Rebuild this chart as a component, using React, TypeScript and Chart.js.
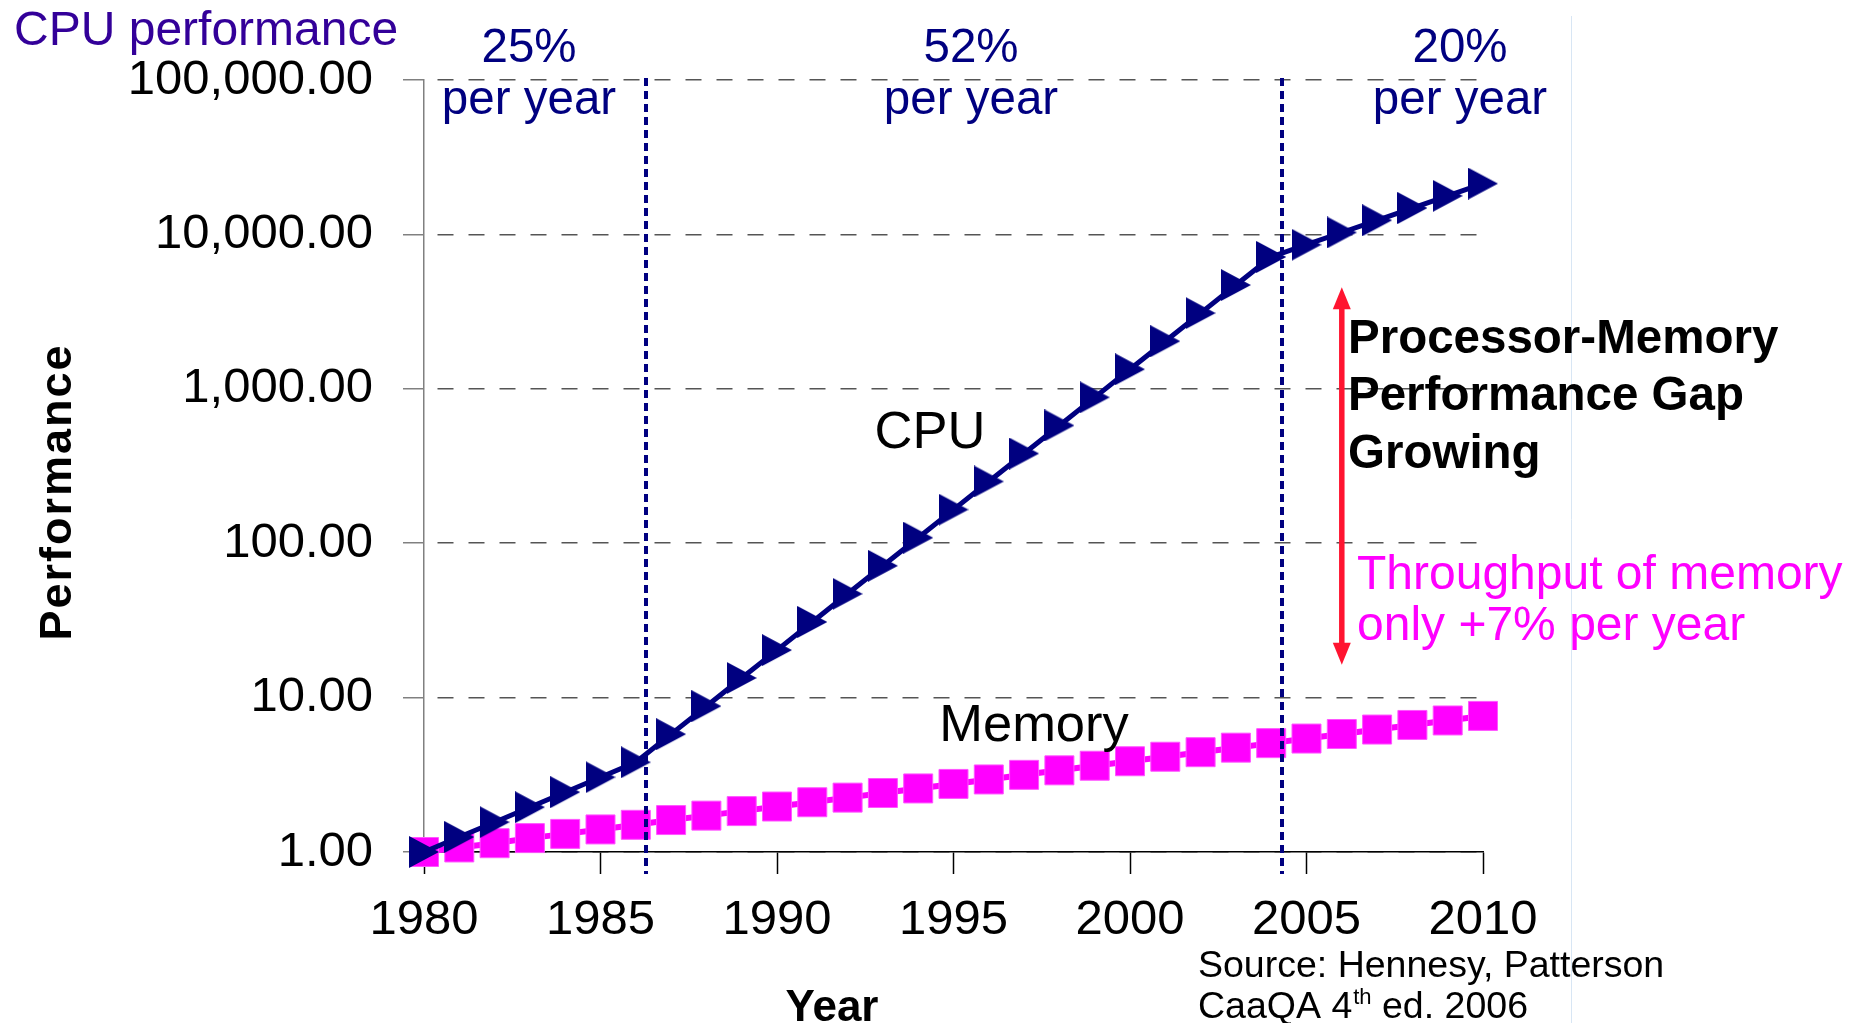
import { useEffect, useRef } from 'react';
import { Chart, registerables } from 'chart.js';

Chart.register(...registerables);

const years = [
  1980, 1981, 1982, 1983, 1984, 1985, 1986, 1987, 1988, 1989, 1990,
  1991, 1992, 1993, 1994, 1995, 1996, 1997, 1998, 1999, 2000,
  2001, 2002, 2003, 2004, 2005, 2006, 2007, 2008, 2009, 2010,
];

const cpuPerformance = [
  1, 1.25, 1.56, 1.95, 2.44, 3.05, 3.81, 5.8, 8.8, 13.4, 20.3,
  30.9, 47, 71.4, 108.5, 165, 251, 381, 579, 880, 1338,
  2034, 3092, 4700, 7144, 8573, 10288, 12345, 14814, 17777, 21332,
];

const memoryPerformance = [
  1, 1.07, 1.14, 1.23, 1.31, 1.4, 1.5, 1.61, 1.72, 1.84, 1.97,
  2.1, 2.25, 2.41, 2.58, 2.76, 2.95, 3.16, 3.38, 3.62, 3.87,
  4.14, 4.43, 4.74, 5.07, 5.43, 5.81, 6.21, 6.65, 7.11, 7.61,
];

const xTickValues = [1980, 1985, 1990, 1995, 2000, 2005, 2010];
const yTickValues = [1, 10, 100, 1000, 10000, 100000];
const yTickLabels = ['1.00', '10.00', '100.00', '1,000.00', '10,000.00', '100,000.00'];

const phaseBoundaryYears = [1986.3, 2004.3];
const phaseRates = ['25%', '52%', '20%'];
const gapArrowYear = 2006;
const gapArrowRange = [16.3, 4550];

const FONT = '"Liberation Sans", Arial, sans-serif';

function makeTriangle(): HTMLCanvasElement {
  const c = document.createElement('canvas');
  c.width = 30;
  c.height = 32;
  const g = c.getContext('2d')!;
  g.fillStyle = '#000080';
  g.beginPath();
  g.moveTo(0, 0);
  g.lineTo(30, 16);
  g.lineTo(0, 32);
  g.closePath();
  g.fill();
  return c;
}

const overlayPlugin = {
  id: 'overlay',
  beforeDraw(chart: any) {
    const { ctx } = chart;
    ctx.save();
    ctx.fillStyle = '#ffffff';
    ctx.fillRect(0, 0, chart.width, chart.height);
    ctx.strokeStyle = '#d8e6f4';
    ctx.lineWidth = 1;
    ctx.beginPath();
    ctx.moveTo(1571.5, 16);
    ctx.lineTo(1571.5, chart.height);
    ctx.stroke();
    ctx.restore();
  },
  afterDatasetsDraw(chart: any) {
    const { ctx, chartArea } = chart;
    const x = chart.scales.x;
    const y = chart.scales.y;
    ctx.save();
    ctx.strokeStyle = '#000080';
    ctx.lineWidth = 4;
    ctx.setLineDash([8, 5]);
    for (const yr of phaseBoundaryYears) {
      const px = Math.round(x.getPixelForValue(yr));
      ctx.beginPath();
      ctx.moveTo(px, chartArea.top - 2);
      ctx.lineTo(px, chartArea.bottom + 22);
      ctx.stroke();
    }
    ctx.restore();

    // red double arrow
    const ax = x.getPixelForValue(gapArrowYear);
    const yTop = y.getPixelForValue(gapArrowRange[1]);
    const yBot = y.getPixelForValue(gapArrowRange[0]);
    ctx.save();
    ctx.strokeStyle = '#ff1430';
    ctx.fillStyle = '#ff1430';
    ctx.lineWidth = 5.5;
    ctx.beginPath();
    ctx.moveTo(ax, yTop + 16);
    ctx.lineTo(ax, yBot - 16);
    ctx.stroke();
    ctx.beginPath();
    ctx.moveTo(ax, yTop);
    ctx.lineTo(ax + 9, yTop + 22);
    ctx.lineTo(ax - 9, yTop + 22);
    ctx.closePath();
    ctx.fill();
    ctx.beginPath();
    ctx.moveTo(ax, yBot);
    ctx.lineTo(ax + 9, yBot - 22);
    ctx.lineTo(ax - 9, yBot - 22);
    ctx.closePath();
    ctx.fill();
    ctx.restore();
  },
  afterDraw(chart: any) {
    const { ctx } = chart;
    ctx.save();
    ctx.textBaseline = 'alphabetic';

    ctx.fillStyle = '#330099';
    ctx.textAlign = 'left';
    ctx.font = `48px ${FONT}`;
    ctx.fillText('CPU performance', 14, 45);

    ctx.fillStyle = '#000080';
    ctx.textAlign = 'center';
    ctx.font = `47.5px ${FONT}`;
    const centers = [529, 971, 1460];
    phaseRates.forEach((r, i) => {
      ctx.fillText(r, centers[i], 62);
      ctx.fillText('per year', centers[i], 114);
    });

    ctx.fillStyle = '#000000';
    ctx.font = `52.5px ${FONT}`;
    ctx.fillText('CPU', 930, 448);
    ctx.fillText('Memory', 1034, 741);

    ctx.textAlign = 'left';
    ctx.font = `bold 47.5px ${FONT}`;
    ctx.fillText('Processor-Memory', 1348, 353);
    ctx.fillText('Performance Gap', 1348, 410);
    ctx.fillText('Growing', 1348, 468);

    ctx.fillStyle = '#ff00ff';
    ctx.font = `48px ${FONT}`;
    ctx.fillText('Throughput of memory', 1357, 589);
    ctx.fillText('only +7% per year', 1357, 640);

    ctx.fillStyle = '#000000';
    ctx.font = `37.5px ${FONT}`;
    ctx.fillText('Source: Hennesy, Patterson', 1198, 977);
    let cx = 1198;
    ctx.fillText('CaaQA 4', cx, 1018);
    cx += ctx.measureText('CaaQA 4').width;
    ctx.font = `22px ${FONT}`;
    ctx.fillText('th', cx + 1, 1004);
    cx += ctx.measureText('th').width + 1;
    ctx.font = `37.5px ${FONT}`;
    ctx.fillText(' ed. 2006', cx, 1018);

    ctx.textAlign = 'center';
    ctx.font = `bold 44px ${FONT}`;
    ctx.fillText('Year', 832, 1021);

    ctx.translate(55, 492);
    ctx.rotate(-Math.PI / 2);
    ctx.font = `bold 45px ${FONT}`;
    try { (ctx as any).letterSpacing = '2px'; } catch (e) {}
    ctx.fillText('Performance', 0, 16);
    ctx.restore();
  },
};

export default function App() {
  const ref = useRef<HTMLCanvasElement>(null);
  useEffect(() => {
    if (!ref.current) return;
    const tri = makeTriangle();
    const tickFont = { family: FONT, size: 49 };
    const chart = new Chart(ref.current, {
      type: 'line',
      data: {
        datasets: [
          {
            label: 'CPU',
            data: years.map((yr, i) => ({ x: yr, y: cpuPerformance[i] })),
            borderColor: '#000080',
            backgroundColor: '#000080',
            borderWidth: 5,
            pointStyle: tri as any,
            pointRadius: 15,
            pointBackgroundColor: '#000080',
            pointBorderColor: '#000080',
            tension: 0,
            clip: false as any,
            order: 0,
          },
          {
            label: 'Memory',
            data: years.map((yr, i) => ({ x: yr, y: memoryPerformance[i] })),
            borderColor: '#ff00ff',
            backgroundColor: '#ff00ff',
            borderWidth: 6,
            pointStyle: 'rect',
            pointRadius: 20.5,
            pointBackgroundColor: '#ff00ff',
            pointBorderColor: '#ff55ff',
            pointBorderWidth: 1,
            tension: 0,
            clip: false as any,
            order: 1,
          },
        ],
      },
      options: {
        animation: false,
        responsive: false,
        maintainAspectRatio: false,
        events: [],
        layout: { padding: { left: 0, right: 366, top: 80, bottom: 0 } },
        plugins: { legend: { display: false }, tooltip: { enabled: false } },
        scales: {
          x: {
            type: 'linear',
            min: 1980,
            max: 2010,
            afterBuildTicks: (s: any) => {
              s.ticks = xTickValues.map((v) => ({ value: v }));
            },
            afterFit: (s: any) => {
              s.height = 171;
            },
            ticks: {
              font: tickFont,
              color: '#000000',
              padding: 17,
              maxRotation: 0,
              autoSkip: false,
              callback: (v: any) => String(v),
            },
            grid: {
              drawOnChartArea: false,
              drawTicks: true,
              tickLength: 22,
              tickColor: '#000000',
              tickWidth: 1.5,
            },
            border: { display: true, color: '#000000', width: 1.5 },
          },
          y: {
            type: 'logarithmic',
            min: 1,
            max: 100000,
            afterBuildTicks: (s: any) => {
              s.ticks = yTickValues.map((v) => ({ value: v }));
            },
            afterFit: (s: any) => {
              s.width = 424;
            },
            ticks: {
              font: tickFont,
              color: '#000000',
              padding: 30,
              autoSkip: false,
              callback: (v: any) => yTickLabels[Math.round(Math.log10(Number(v)))],
            },
            grid: {
              color: '#555555',
              lineWidth: 1.5,
              tickLength: 21,
              tickColor: '#808080',
              tickWidth: 1.5,
              tickBorderDash: [],
            } as any,
            border: { display: true, color: '#808080', width: 1.5, dash: [16, 15], dashOffset: 18 },
          },
        },
      },
      plugins: [overlayPlugin],
    });
    return () => chart.destroy();
  }, []);
  return (
    <div style={{ position: 'fixed', left: 0, top: 0, width: 1849, height: 1023, background: '#fff' }}>
      <canvas ref={ref} width={1849} height={1023} style={{ display: 'block', width: 1849, height: 1023 }} />
    </div>
  );
}
